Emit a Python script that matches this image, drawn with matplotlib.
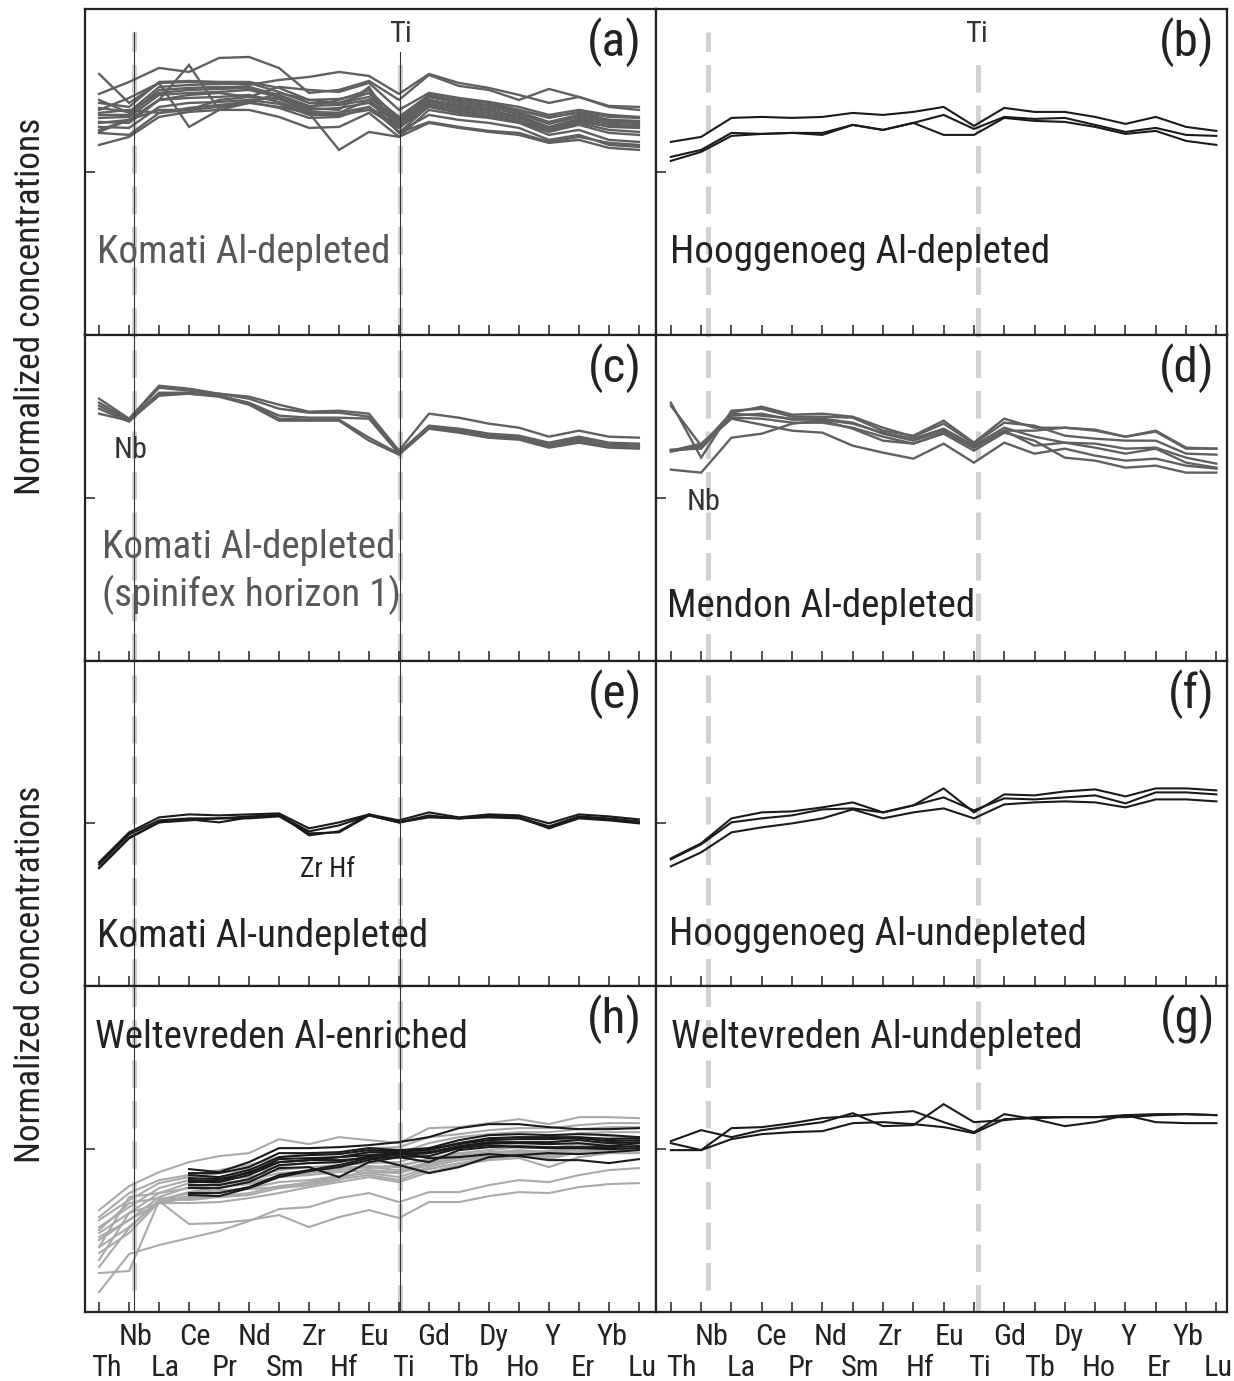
import numpy as np
import matplotlib
matplotlib.use("Agg")
import matplotlib.pyplot as plt
from matplotlib import font_manager as fm
from matplotlib.ticker import NullLocator
from matplotlib.transforms import blended_transform_factory

# Prefer a narrow sans face; the size factor K keeps label widths similar
# across the faces that may be installed.
_installed = {f.name for f in fm.fontManager.ttflist}
_faces = [("Liberation Sans Narrow", 1.0), ("Arial Narrow", 1.0),
          ("Nimbus Sans Narrow", 1.0), ("Roboto Condensed", 0.91)]
_narrow = next(((n, k) for n, k in _faces if n in _installed), None)
if _narrow:
    plt.rcParams['font.family'] = [_narrow[0], 'DejaVu Sans']
    K = _narrow[1]
else:
    plt.rcParams['font.family'] = ['Liberation Sans', 'DejaVu Sans']
    K = 0.84

elements = ["Th", "Nb", "La", "Ce", "Pr", "Nd", "Sm", "Zr", "Hf", "Eu",
            "Ti", "Gd", "Tb", "Dy", "Ho", "Y", "Er", "Yb", "Lu"]

# log10 of primitive-mantle normalized concentrations, one row per sample
komati_depleted = [
    [.78, .90, 1.04, 1.00, 1.14, 1.15, 1.04, .79, .82, .91, .72, .97, .86, .82, .72, .83, .75, .66, .65],
    [.98, .69, .89, .90, .89, .87, .92, .95, 1.00, .96, .78, .98, .89, .84, .77, .69, .75, .65, .62],
    [.49, .52, .72, 1.07, .62, .72, .74, .65, .72, .82, .52, .75, .70, .67, .62, .55, .59, .52, .50],
    [.62, .74, .89, .45, .62, .69, .79, .72, .69, .79, .45, .72, .65, .62, .55, .42, .52, .45, .44],
    [.42, .52, .62, .62, .65, .69, .65, .59, .22, .40, .35, .62, .57, .54, .49, .37, .42, .32, .30],
    [.27, .35, .55, .60, .62, .62, .55, .44, .45, .59, .35, .49, .44, .40, .37, .29, .32, .24, .22],
    [.39, .37, .59, .64, .67, .70, .64, .54, .55, .65, .40, .57, .52, .49, .44, .32, .37, .27, .25],
    [.69, .65, .90, .91, .90, .90, .84, .72, .73, .79, .55, .77, .72, .69, .62, .54, .60, .55, .54],
    [.64, .60, .85, .87, .88, .89, .80, .69, .69, .75, .52, .75, .69, .66, .60, .50, .57, .52, .51],
    [.57, .57, .82, .84, .85, .85, .77, .66, .67, .72, .50, .72, .67, .64, .58, .48, .55, .50, .49],
    [.54, .55, .77, .79, .80, .82, .75, .62, .64, .69, .48, .70, .65, .61, .56, .45, .53, .48, .47],
    [.50, .49, .72, .74, .75, .77, .70, .59, .59, .65, .45, .68, .63, .59, .54, .44, .50, .46, .45],
    [.45, .44, .65, .69, .70, .72, .68, .57, .57, .62, .44, .65, .59, .55, .50, .40, .47, .39, .37],
    [.59, .62, .59, .62, .72, .75, .85, .82, .80, .89, .62, .79, .74, .70, .65, .57, .62, .57, .55],
    [.72, .59, .79, .82, .83, .84, .75, .64, .62, .85, .39, .66, .61, .57, .52, .41, .49, .42, .40],
    [.40, .52, .72, .77, .79, .75, .73, .60, .59, .72, .39, .50, .45, .41, .39, .30, .35, .29, .27],
]

hooggenoeg_depleted = [
    [.30, .35, .54, .55, .54, .55, .59, .57, .60, .65, .46, .64, .60, .60, .55, .48, .55, .45, .41],
    [.15, .22, .39, .38, .39, .39, .47, .42, .49, .57, .43, .55, .53, .54, .47, .40, .44, .37, .36],
    [.11, .20, .36, .38, .39, .37, .47, .42, .49, .37, .37, .54, .51, .50, .45, .38, .41, .31, .27],
]

komati_spinifex = [
    [.99, .79, 1.12, 1.09, 1.04, 1.01, .93, .86, .87, .84, .47, .84, .80, .74, .70, .61, .67, .61, .60],
    [.95, .78, 1.10, 1.07, 1.04, .99, .89, .85, .85, .81, .45, .72, .69, .64, .62, .55, .61, .55, .54],
    [.92, .77, 1.05, 1.05, 1.02, .95, .82, .80, .80, .79, .44, .71, .68, .62, .60, .53, .59, .53, .52],
    [.89, .76, 1.04, 1.04, 1.02, .94, .79, .78, .78, .60, .44, .70, .66, .60, .59, .51, .57, .51, .50],
    [.84, .77, 1.02, 1.04, 1.01, .93, .77, .77, .77, .57, .43, .69, .65, .60, .58, .50, .55, .50, .49],
]

mendon_depleted = [
    [.95, .40, .87, .89, .81, .81, .80, .67, .62, .77, .55, .79, .70, .70, .67, .61, .67, .50, .49],
    [.92, .52, .85, .91, .83, .84, .81, .70, .61, .74, .54, .75, .72, .62, .59, .57, .57, .44, .43],
    [.48, .49, .82, .84, .78, .78, .74, .65, .59, .69, .52, .70, .61, .55, .54, .49, .50, .40, .34],
    [.47, .54, .80, .79, .75, .75, .70, .61, .54, .65, .50, .67, .52, .55, .50, .44, .49, .35, .30],
    [.46, .52, .79, .73, .67, .65, .52, .45, .39, .54, .35, .55, .44, .49, .42, .37, .39, .32, .29],
    [.28, .25, .60, .64, .74, .77, .69, .57, .54, .64, .47, .65, .57, .40, .37, .30, .32, .25, .25],
    [.47, .50, .84, .82, .79, .79, .75, .64, .57, .67, .50, .67, .67, .70, .68, .61, .66, .49, .49],
]

komati_undepleted = [
    [-.39, -.09, .06, .09, .08, .09, .10, -.05, .01, .09, .03, .11, .06, .09, .08, .00, .09, .07, .04],
    [-.41, -.11, .03, .05, .05, .07, .08, -.08, -.02, .08, .01, .08, .05, .07, .06, -.03, .07, .05, .02],
    [-.44, -.14, .01, .04, .01, .06, .09, -.12, -.08, .09, .01, .06, .05, .06, .05, -.04, .06, .04, .01],
    [-.45, -.15, .01, .03, .05, .05, .07, -.10, -.09, .08, .01, .07, .05, .08, .06, -.05, .05, .03, .00],
]

hooggenoeg_undepleted = [
    [-.35, -.20, .05, .11, .12, .16, .21, .11, .18, .35, .11, .29, .28, .32, .34, .27, .35, .35, .33],
    [-.36, -.21, .01, .05, .08, .14, .15, .11, .18, .26, .13, .25, .24, .26, .28, .20, .31, .31, .29],
    [-.43, -.29, -.09, -.04, .00, .05, .14, .05, .11, .15, .05, .19, .21, .22, .21, .16, .24, .24, .22],
]

nan = np.nan
weltevreden_enriched_black = [
    [nan, nan, nan, -.20, -.23, -.13, .01, .01, .02, .04, .07, .12, .21, .25, .25, .22, .20, .20, .21],
    [nan, nan, nan, -.24, -.24, -.18, -.04, -.04, -.03, .01, -.01, .01, .09, .14, .15, .14, .15, .14, .12],
    [nan, nan, nan, -.26, -.28, -.21, -.08, -.06, -.05, -.01, -.02, -.01, .06, .11, .12, .12, .12, .10, .11],
    [nan, nan, nan, -.29, -.30, -.24, -.10, -.09, -.08, -.03, -.03, .00, .05, .09, .10, .10, .11, .08, .09],
    [nan, nan, nan, -.33, -.33, -.26, -.13, -.11, -.08, -.06, -.04, -.03, .03, .07, .07, .07, .09, .06, .07],
    [nan, nan, nan, -.36, -.36, -.30, -.16, -.14, -.13, -.07, -.06, -.04, .02, .06, .06, .05, .06, .03, .06],
    [nan, nan, nan, -.39, -.39, -.33, -.19, -.18, -.28, -.13, -.08, -.13, -.01, .02, .03, .02, .02, .02, .03],
    [nan, nan, nan, -.44, -.44, -.38, -.26, -.21, -.16, -.09, -.16, -.24, -.18, -.08, -.06, -.04, -.05, -.03, -.01],
    [nan, nan, nan, -.46, -.47, -.39, -.28, -.22, -.18, -.11, -.04, -.09, -.08, -.05, -.07, -.11, -.11, -.14, -.10],
    [nan, nan, nan, -.31, -.32, -.23, -.13, -.11, -.11, -.09, -.08, -.07, .01, .04, .02, .01, .01, .00, .01],
]

weltevreden_enriched_grey = [
    [-1.24, -1.22, -.52, -.75, -.74, -.71, -.66, -.78, -.68, -.61, -.69, -.53, -.53, -.47, -.43, -.44, -.38, -.35, -.34],
    [-1.43, -1.05, -.96, -.89, -.82, -.72, -.60, -.58, -.49, -.44, -.53, -.43, -.43, -.36, -.31, -.33, -.26, -.21, -.19],
    [-.61, -.37, -.23, -.13, -.07, -.04, .10, .05, .12, .09, .06, .21, .22, .26, .30, .25, .32, .32, .31],
    [-.68, -.44, -.31, -.26, -.21, -.16, -.08, -.04, -.04, .01, .02, .12, .15, .19, .21, .21, .24, .26, .26],
    [-.71, -.51, -.34, -.28, -.24, -.20, -.13, -.11, -.08, -.04, -.04, .06, .12, .15, .17, .17, .20, .22, .22],
    [-.78, -.58, -.39, -.31, -.28, -.24, -.17, -.14, -.13, -.09, -.09, .01, .06, .10, .12, .12, .16, .17, .17],
    [-.84, -.64, -.44, -.34, -.30, -.28, -.21, -.18, -.16, -.14, -.13, -.04, .01, .04, .06, .06, .10, .12, .12],
    [-.91, -.71, -.48, -.38, -.34, -.31, -.24, -.22, -.19, -.17, -.18, -.09, -.04, -.01, .02, .01, .05, .07, .06],
    [-.98, -.78, -.51, -.43, -.38, -.35, -.28, -.26, -.23, -.21, -.23, -.14, -.08, -.06, -.03, -.04, .01, .03, .02],
    [-1.04, -.84, -.53, -.47, -.43, -.39, -.33, -.31, -.27, -.24, -.28, -.18, -.11, -.08, -.05, -.08, -.02, .01, .01],
    [-1.11, -.64, -.54, -.49, -.47, -.44, -.37, -.34, -.30, -.26, -.31, -.20, -.14, -.09, -.07, -.10, -.03, -.01, -.01],
    [-.98, -.48, -.44, -.39, -.35, -.33, -.28, -.24, -.21, -.18, -.21, -.13, -.05, -.04, -.01, -.03, .02, .05, .04],
    [-.88, -.71, -.54, -.54, -.53, -.49, -.44, -.38, -.33, -.28, -.33, -.23, -.16, -.11, -.09, -.18, -.08, -.04, -.04],
    [-1.18, -.79, -.52, -.44, -.41, -.40, -.38, -.33, -.28, -.23, -.24, -.16, -.09, -.07, -.04, -.06, .00, .02, .02],
    [-.81, -.54, -.49, -.51, -.48, -.46, -.39, -.36, -.31, -.19, -.16, -.11, -.07, -.03, -.02, -.02, .03, .06, .06],
]

weltevreden_undepleted = [
    [.08, .19, .12, .19, .23, .27, .36, .23, .24, .45, .27, .29, .32, .32, .32, .34, .35, .35, .34],
    [.06, -.01, .21, .22, .26, .31, .33, .36, .38, .27, .17, .35, .30, .23, .27, .34, .27, .26, .26],
    [-.01, -.01, .10, .15, .17, .18, .26, .27, .25, .22, .16, .30, .31, .32, .32, .32, .34, .35, .34],
]

# ---------------------------------------------------------------- layout
W, H = 1234, 1381
fig = plt.figure(figsize=(W / 100, H / 100), dpi=100)

col_x = [(85, 656), (656, 1227)]
row_h = 325.75
row_top = [9 + row_h * i for i in range(4)]
xlims = [(-0.47, 18.57), (-0.49, 18.35)]
ylim = (10 ** -1.63, 10 ** 1.63)

DARK = "#222222"
GREY_LINE = "#606060"
BLACK_LINE = "#1a1a1a"
LIGHT_LINE = "#a9a9a9"
DASH = "#d2d2d2"

x = np.arange(len(elements))


def make_axes(r, c):
    x0, x1 = col_x[c]
    top = row_top[r]
    ax = fig.add_axes([x0 / W, 1 - (top + row_h) / H, (x1 - x0) / W, row_h / H])
    ax.set_yscale("log")
    ax.set_xlim(*xlims[c])
    ax.set_ylim(*ylim)
    ax.set_xticks(x)
    ax.set_yticks([1])
    ax.yaxis.set_minor_locator(NullLocator())
    ax.xaxis.set_minor_locator(NullLocator())
    ax.tick_params(axis="x", direction="in", length=7.5, width=1.1, color=DARK,
                   labelbottom=False, top=False)
    ax.tick_params(axis="y", direction="in", length=7, width=1.1, color=DARK,
                   labelleft=False, right=False)
    for s in ax.spines.values():
        s.set_linewidth(1.6)
        s.set_color(DARK)
    return ax


def draw(ax, rows, color, lw=1.5, z=2):
    for row in rows:
        ax.plot(x, 10 ** np.asarray(row, dtype=float), color=color, lw=lw,
                solid_joinstyle="miter", zorder=z)


def guides(ax, c, r):
    nb = 1.15 if c == 0 else 1.23
    ti = 10.02 if c == 0 else 10.13
    nb_top = 1 - (32 - 9) / row_h if r == 0 else 1
    ti_top = 1 - (52 - 9) / row_h if r == 0 else 1
    nb_bot = (1312 - 1290) / row_h if r == 3 else 0
    ax.axvline(nb, ymin=nb_bot, ymax=nb_top, color=DASH, lw=3.6,
               ls=(0, (5.5, 2.6)), zorder=1.5)
    ax.axvline(ti, ymin=0, ymax=ti_top, color=DASH, lw=3.6,
               ls=(0, (5.5, 2.6)), zorder=1.5)
    if c == 0:
        ax.axvline(nb, ymin=0, ymax=nb_top, color="#333333", lw=0.8, zorder=3)
        ax.axvline(ti, ymin=0, ymax=ti_top, color="#333333", lw=0.8, zorder=3)


panels = {}
for r in range(4):
    for c in range(2):
        panels[(r, c)] = make_axes(r, c)
        guides(panels[(r, c)], c, r)

draw(panels[(0, 0)], komati_depleted, GREY_LINE, lw=1.7)
draw(panels[(0, 1)], hooggenoeg_depleted, BLACK_LINE)
draw(panels[(1, 0)], komati_spinifex, GREY_LINE, lw=1.7)
draw(panels[(1, 1)], mendon_depleted, GREY_LINE, lw=1.7)
draw(panels[(2, 0)], komati_undepleted, BLACK_LINE)
draw(panels[(2, 1)], hooggenoeg_undepleted, BLACK_LINE)
draw(panels[(3, 0)], weltevreden_enriched_grey, LIGHT_LINE, lw=1.5)
draw(panels[(3, 0)], weltevreden_enriched_black, BLACK_LINE, lw=1.5, z=2.2)
draw(panels[(3, 1)], weltevreden_undepleted, BLACK_LINE)


# ---------------------------------------------------------------- text
def ftext(xp, yp, s, size, **kw):
    fig.text(xp / W, 1 - yp / H, s, fontsize=size * K, **kw)


letters = [("(a)", "(b)"), ("(c)", "(d)"), ("(e)", "(f)"), ("(h)", "(g)")]
for r in range(4):
    for c in range(2):
        xr = 642 if c == 0 else 1215
        ftext(xr, row_top[r] + 47, letters[r][c], 39, ha="right", va="baseline",
              color=DARK)

LBL = 31
ftext(97, 263, "Komati Al-depleted", LBL, color="#585858", va="baseline")
ftext(670, 263, "Hooggenoeg Al-depleted", LBL, color=DARK, va="baseline")
ftext(102, 558, "Komati Al-depleted", LBL, color="#585858", va="baseline")
ftext(102, 606, "(spinifex horizon 1)", LBL, color="#585858", va="baseline")
ftext(667, 617, "Mendon Al-depleted", LBL, color=DARK, va="baseline")
ftext(97, 947, "Komati Al-undepleted", LBL, color=DARK, va="baseline")
ftext(669, 945, "Hooggenoeg Al-undepleted", LBL, color=DARK, va="baseline")
ftext(95, 1048, "Weltevreden Al-enriched", LBL, color=DARK, va="baseline")
ftext(671, 1048, "Weltevreden Al-undepleted", LBL, color=DARK, va="baseline")

ftext(400, 42, "Ti", 24, color="#333333", ha="center", va="baseline")
ftext(976, 42, "Ti", 24, color="#333333", ha="center", va="baseline")
ftext(114, 458, "Nb", 24, color="#333333", va="baseline")
ftext(687, 510, "Nb", 24, color="#333333", va="baseline")
ftext(300, 877, "Zr Hf", 22, color="#222222", va="baseline")

ftext(31, 306, "Normalized concentrations", 28, rotation=90,
      ha="center", va="center", color=DARK)
ftext(31, 974, "Normalized concentrations", 28, rotation=90,
      ha="center", va="center", color=DARK)

# element names below the bottom row, staggered on two lines
for c, (start, step) in ((0, (0.23, 0.993)), (1, (0.36, 0.983))):
    ax = panels[(3, c)]
    tr = blended_transform_factory(ax.transData, fig.transFigure)
    for i, el in enumerate(elements):
        yp = 1345 if i % 2 else 1376
        ax.text(start + step * i, 1 - yp / H, el, transform=tr, ha="center",
                va="baseline", fontsize=24 * K, color=DARK, clip_on=False)

fig.savefig("out.png", dpi=100)
